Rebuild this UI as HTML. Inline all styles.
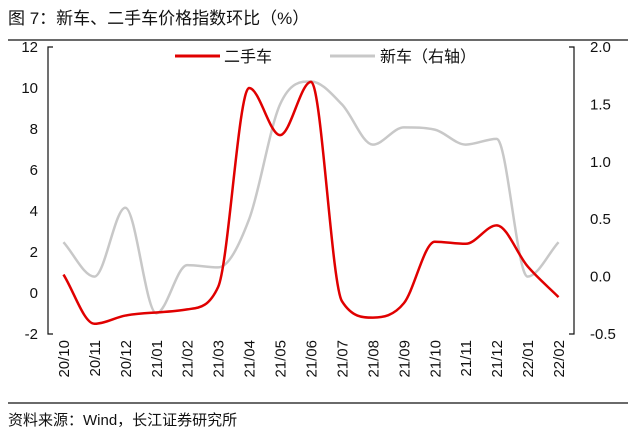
<!DOCTYPE html>
<html><head><meta charset="utf-8"><style>
body{margin:0;background:#fff;width:630px;height:434px;overflow:hidden;font-family:"Liberation Sans","Noto Sans CJK SC",sans-serif}
</style></head><body>
<svg width="630" height="434" font-family="Liberation Sans, Noto Sans CJK SC, sans-serif">
<text x="8" y="24" font-size="17" fill="#111">图 7：新车、二手车价格指数环比（%）</text>
<line x1="8" y1="40" x2="628" y2="40" stroke="#111" stroke-width="1.2"/>
<line x1="8" y1="403" x2="628" y2="403" stroke="#111" stroke-width="1.2"/>
<text x="8" y="425" font-size="15" fill="#111">资料来源：Wind，长江证券研究所</text>
<g id="axes"></g>
<g id="series"></g>
<g>
<line x1="175" y1="56" x2="220" y2="56" stroke="#e00000" stroke-width="3"/>
<text x="224" y="62" font-size="16" fill="#111">二手车</text>
<line x1="330" y1="56" x2="375" y2="56" stroke="#c8c8c8" stroke-width="3"/>
<text x="380" y="62" font-size="16" fill="#111">新车（右轴）</text>
</g>
</svg>
<script>
const categories=["20/10","20/11","20/12","21/01","21/02","21/03","21/04","21/05","21/06","21/07","21/08","21/09","21/10","21/11","21/12","22/01","22/02"];
const usedCar=[0.9,-1.5,-1.1,-0.95,-0.8,0.3,10.0,7.7,10.3,-0.4,-1.2,-0.5,2.5,2.4,3.3,1.3,-0.2];
const newCar=[0.3,0.0,0.6,-0.32,0.1,0.08,0.5,1.5,1.7,1.5,1.15,1.3,1.28,1.15,1.2,0.0,0.3];
const leftTicks=[-2,0,2,4,6,8,10,12];
const rightTicks=["-0.5","0.0","0.5","1.0","1.5","2.0"];
const NS="http://www.w3.org/2000/svg";
const X0=48,X1=574,YT=47,YB=334;
const xS=i=>X0+(X1-X0)/categories.length*(i+0.5);
const yL=v=>YB-(v+2)/14*(YB-YT);
const yR=v=>YB-(v+0.5)/2.5*(YB-YT);
function mk(t,a,p){const e=document.createElementNS(NS,t);for(const k in a)e.setAttribute(k,a[k]);p.appendChild(e);return e;}
const ax=document.getElementById('axes');
let e=mk('path',{d:`M${X0+5} ${YT}H${X0}V${YB}H${X0+5}`,fill:'none',stroke:'#111','stroke-width':1.2},ax);


e=mk('path',{d:`M${X1-5} ${YT}H${X1}V${YB}H${X1-5}`,fill:'none',stroke:'#111','stroke-width':1.2},ax);


leftTicks.forEach(v=>{const t=mk('text',{x:X0-10,y:yL(v)+5,'text-anchor':'end','font-size':15,fill:'#111'},ax);t.textContent=v;

});
rightTicks.forEach(v=>{const t=mk('text',{x:X1+16,y:yR(parseFloat(v))+5,'font-size':15,fill:'#111'},ax);t.textContent=v;

});
categories.forEach((c,i)=>{const x=xS(i)+5.5,y=340;const t=mk('text',{x:x,y:y,transform:`rotate(-90 ${x} ${y})`,'text-anchor':'end','font-size':15,fill:'#111'},ax);t.textContent=c;

});
function smooth(pts){
  const n=pts.length,dx=pts[1][0]-pts[0][0];
  const s=[];for(let i=0;i<n-1;i++)s.push((pts[i+1][1]-pts[i][1])/dx);
  const m=[s[0]];for(let i=1;i<n-1;i++){m.push(s[i-1]*s[i]<=0?0:(s[i-1]+s[i])/2);}m.push(s[n-2]);
  for(let i=0;i<n-1;i++){if(s[i]===0){m[i]=0;m[i+1]=0;continue;}const a=m[i]/s[i],b=m[i+1]/s[i],h=a*a+b*b;if(h>9){const t=3/Math.sqrt(h);m[i]=t*a*s[i];m[i+1]=t*b*s[i];}}
  let d=`M${pts[0][0]} ${pts[0][1]}`;
  for(let i=0;i<n-1;i++){const p1=pts[i],p2=pts[i+1];d+=`C${p1[0]+dx/3} ${p1[1]+m[i]*dx/3},${p2[0]-dx/3} ${p2[1]-m[i+1]*dx/3},${p2[0]} ${p2[1]}`;}
  return d;}
const sg=document.getElementById('series');
e=mk('path',{d:smooth(newCar.map((v,i)=>[xS(i),yR(v)])),fill:'none',stroke:'#c8c8c8','stroke-width':2.5},sg);


e=mk('path',{d:smooth(usedCar.map((v,i)=>[xS(i),yL(v)])),fill:'none',stroke:'#e00000','stroke-width':2.5},sg);


</script>
</body></html>
